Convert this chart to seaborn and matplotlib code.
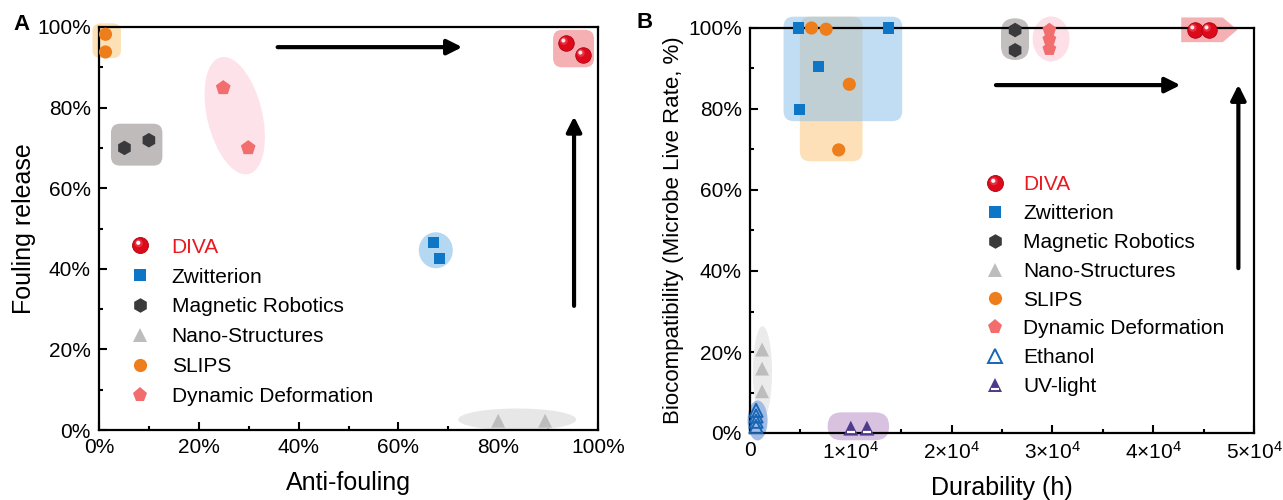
import numpy as np
import matplotlib
matplotlib.use("Agg")
import matplotlib.pyplot as plt
import seaborn as sns
from matplotlib.patches import FancyBboxPatch, Ellipse, Polygon
from matplotlib.path import Path
from matplotlib.markers import MarkerStyle
from matplotlib.lines import Line2D
from matplotlib.legend_handler import HandlerTuple
from matplotlib.ticker import MultipleLocator, FixedLocator

# ---------------- data: panel A (Anti-fouling %, Fouling release %) ----------
categories_a = ["DIVA", "Zwitterion", "Magnetic Robotics", "Nano-Structures",
                "SLIPS", "Dynamic Deformation"]
diva_a_x = [93.5, 96.9]
diva_a_y = [96.0, 93.0]
zwit_a_x = [67.1, 68.2]
zwit_a_y = [46.6, 42.6]
mag_a_x = [5.1, 10.0]
mag_a_y = [70.0, 71.9]
nano_a_x = [80.0, 89.4]
nano_a_y = [2.3, 2.3]
slips_a_x = [1.3, 1.3]
slips_a_y = [98.2, 93.8]
dyn_a_x = [24.9, 29.9]
dyn_a_y = [84.9, 70.0]

# ---------------- data: panel B (Durability h, Biocompatibility %) -----------
categories_b = categories_a + ["Ethanol", "UV-light"]
diva_b_x = [44100, 45500]
diva_b_y = [99.5, 99.5]
zwit_b_x = [4800, 13700, 6800, 4900]
zwit_b_y = [100.0, 100.0, 90.4, 79.8]
mag_b_x = [26300, 26300]
mag_b_y = [99.5, 94.5]
nano_b_x = [1200, 1200, 1200]
nano_b_y = [20.6, 15.9, 10.3]
slips_b_x = [6100, 7550, 9850, 8800]
slips_b_y = [100.0, 99.7, 86.1, 69.9]
dyn_b_x = [29700, 29700, 29700]
dyn_b_y = [99.5, 97.2, 94.8]
eth_b_x = [600, 600, 600, 600]
eth_b_y = [5.6, 4.2, 2.9, 1.6]
uv_b_x = [10000, 11600]
uv_b_y = [1.2, 1.2]

pct_ticks = [0, 20, 40, 60, 80, 100]
pct_labels = ["0%", "20%", "40%", "60%", "80%", "100%"]
dur_ticks = [0, 10000, 20000, 30000, 40000, 50000]
dur_labels = ["0"] + [r"$\mathregular{%d{\times}10^4}$" % k for k in range(1, 6)]

# ---------------- style ----------------
sns.set_style("ticks")
plt.rcParams["font.family"] = ["Liberation Sans", "DejaVu Sans"]
plt.rcParams["mathtext.fontset"] = "custom"
plt.rcParams["mathtext.rm"] = "Liberation Sans"
plt.rcParams["mathtext.it"] = "Liberation Sans:italic"
plt.rcParams["text.color"] = "black"
plt.rcParams["axes.labelcolor"] = "black"
plt.rcParams["xtick.color"] = "black"
plt.rcParams["ytick.color"] = "black"

C_DIVA = "#DD0A1B"
C_ZWIT = "#0E76C6"
C_MAG = "#3A3A3D"
C_NANO = "#BDBDBD"
C_SLIPS = "#EE7D1B"
C_DYN = "#F26E6E"
C_ETH = "#1766B5"
C_UV = "#4E3B8C"

fig = plt.figure(figsize=(12.83, 5.0), dpi=100)
axA = fig.add_axes([99 / 1283, 1 - 430 / 500, 499 / 1283, 403 / 500])
axB = fig.add_axes([750 / 1283, 1 - 433 / 500, 504 / 1283, 405 / 500])

axA.set_xlim(0, 100)
axA.set_ylim(0, 100)
axB.set_xlim(0, 50000)
axB.set_ylim(0, 100)

DPI = fig.dpi


def px(ax, x, y):
    return ax.transData.transform((x, y)) / DPI


def rbox(ax, x0, x1, y0, y1, r_px, color, alpha=1.0, z=1):
    p0 = px(ax, x0, y0)
    p1 = px(ax, x1, y1)
    w, h = p1[0] - p0[0], p1[1] - p0[1]
    r = min(r_px / DPI, w / 2, h / 2)
    p = FancyBboxPatch(tuple(p0), w, h,
                       boxstyle=f"round,pad=0,rounding_size={r}",
                       transform=fig.dpi_scale_trans, facecolor=color,
                       edgecolor="none", alpha=alpha, zorder=z, clip_on=False)
    ax.add_patch(p)


def ell(ax, xc, yc, w_px, h_px, angle, color, alpha=1.0, z=1):
    c = px(ax, xc, yc)
    e = Ellipse(tuple(c), w_px / DPI, h_px / DPI, angle=angle,
                transform=fig.dpi_scale_trans, facecolor=color,
                edgecolor="none", alpha=alpha, zorder=z, clip_on=False)
    ax.add_patch(e)


def offset_circle(cx, cy, r):
    frame = Path([(-1, -1), (1, 1)], [Path.MOVETO, Path.MOVETO])
    return MarkerStyle(Path.make_compound_path(frame, Path.circle((cx, cy), r)))


HL1 = offset_circle(-0.22, 0.28, 0.5)
HL2 = offset_circle(-0.28, 0.34, 0.26)
DASH = MarkerStyle(Path([(-1, -1), (1, 1), (-0.5, -0.55), (0.5, -0.55)],
                        [Path.MOVETO, Path.MOVETO, Path.MOVETO, Path.LINETO]))


def spheres(ax, xs, ys, s=125):
    sns.scatterplot(x=xs, y=ys, marker="o", s=s, color=C_DIVA, edgecolor="#B00010",
                    linewidth=0.6, ax=ax, zorder=4, clip_on=False, legend=False)
    sns.scatterplot(x=xs, y=ys, marker=HL1, s=s, color="#F2505C", alpha=0.55,
                    edgecolor="none", linewidth=0, ax=ax, zorder=4, clip_on=False, legend=False)
    sns.scatterplot(x=xs, y=ys, marker=HL2, s=s, color="white", alpha=0.9,
                    edgecolor="none", linewidth=0, ax=ax, zorder=4, clip_on=False, legend=False)


def pts(ax, xs, ys, marker, s, color, z=4, **kw):
    kw.setdefault("edgecolor", "none")
    kw.setdefault("linewidth", 0)
    sns.scatterplot(x=xs, y=ys, marker=marker, s=s, color=color, ax=ax,
                    zorder=z, clip_on=False, legend=False, **kw)


# ---------------- Panel A ----------------
rbox(axA, -1.3, 4.4, 92.3, 100.9, 8, "#FCE0B6")
ell(axA, 27.2, 78.0, 55, 120, 13.5, "#FDE2E9")
rbox(axA, 2.4, 12.7, 65.6, 76.0, 9, "#BEBBBA")
rbox(axA, 91.0, 99.2, 90.0, 99.3, 9, "#F4B0B3")
ell(axA, 67.5, 44.6, 34, 36, 0, "#B4D7F2")
ell(axA, 83.8, 2.6, 118, 22, 0, "#E7E7E7")

spheres(axA, diva_a_x, diva_a_y)
pts(axA, zwit_a_x, zwit_a_y, "s", 64, C_ZWIT)
pts(axA, mag_a_x, mag_a_y, "h", 110, C_MAG)
pts(axA, nano_a_x, nano_a_y, "^", 100, C_NANO)
pts(axA, slips_a_x, slips_a_y, "o", 90, C_SLIPS)
pts(axA, dyn_a_x, dyn_a_y, "p", 125, C_DYN)

ARW = dict(arrowstyle="-|>,head_length=0.9,head_width=0.45",
           lw=3, color="black", shrinkA=0, shrinkB=0)
axA.annotate("", xy=(72.8, 95.0), xytext=(35.8, 95.0), arrowprops=ARW, zorder=5)
axA.annotate("", xy=(95.2, 77.8), xytext=(95.2, 30.8), arrowprops=ARW, zorder=5)

# ---------------- Panel B ----------------
rbox(axB, 4950, 11160, 67.1, 102.8, 10, "#FDDFB8")
rbox(axB, 3330, 15100, 77.0, 102.8, 10, "#8EC2EC", alpha=0.55)
rbox(axB, 24900, 27680, 92.1, 102.4, 20, "#C2BFBE")
ell(axB, 29870, 97.3, 37, 45, 0, "#FDE0E7")
arrow_poly = [(42780, 96.5), (46900, 96.5), (48350, 99.55), (46900, 102.6), (42780, 102.6)]
poly_px = [tuple(px(axB, x, y)) for x, y in arrow_poly]
axB.add_patch(Polygon(poly_px, closed=True, transform=fig.dpi_scale_trans,
                      facecolor="#F5B0B3", edgecolor="none", zorder=1, clip_on=False))
ell(axB, 1240, 15.0, 19, 92, 0, "#EBEBEB")
ell(axB, 750, 3.1, 20, 40, 0, "#A3BCE4")
rbox(axB, 7700, 13800, -1.8, 5.1, 14, "#D8C2E0")

spheres(axB, diva_b_x, diva_b_y)
pts(axB, zwit_b_x, zwit_b_y, "s", 64, C_ZWIT)
pts(axB, mag_b_x, mag_b_y, "h", 110, C_MAG)
pts(axB, nano_b_x, nano_b_y, "^", 100, C_NANO)
pts(axB, slips_b_x, slips_b_y, "o", 90, C_SLIPS)
pts(axB, dyn_b_x, dyn_b_y, "p", 110, C_DYN)
pts(axB, eth_b_x, eth_b_y, "^", 90, C_ETH, facecolor="none", edgecolor=C_ETH, linewidth=1.4)
pts(axB, uv_b_x, uv_b_y, "^", 115, C_UV)
pts(axB, uv_b_x, uv_b_y, DASH, 115, "white", z=4.5, facecolor="none",
    edgecolor="white", linewidth=1.6)

axB.annotate("", xy=(42700, 85.9), xytext=(24400, 85.9), arrowprops=ARW, zorder=5)
axB.annotate("", xy=(48450, 86.0), xytext=(48450, 40.7), arrowprops=ARW, zorder=5)

# ---------------- axes styling ----------------
for ax in (axA, axB):
    for sp in ax.spines.values():
        sp.set_visible(True)
        sp.set_linewidth(1.6)
        sp.set_color("black")
        sp.set_zorder(2.5)
    ax.tick_params(which="both", direction="in", top=False, right=False,
                   labelsize=15, pad=6, colors="black")
    ax.tick_params(which="major", length=6, width=1.5)
    ax.tick_params(which="minor", length=3, width=1.5)
    ax.yaxis.set_major_locator(FixedLocator(pct_ticks))
    ax.set_yticklabels(pct_labels)
    ax.yaxis.set_minor_locator(MultipleLocator(10))

axA.xaxis.set_major_locator(FixedLocator(pct_ticks))
axA.set_xticklabels(pct_labels)
axA.xaxis.set_minor_locator(MultipleLocator(10))
axB.xaxis.set_major_locator(FixedLocator(dur_ticks))
axB.set_xticklabels(dur_labels)
axB.xaxis.set_minor_locator(MultipleLocator(5000))

axA.set_xlabel("Anti-fouling", fontsize=18, labelpad=10)
axA.set_ylabel("Fouling release", fontsize=18, labelpad=1)
axB.set_xlabel("Durability (h)", fontsize=18, labelpad=9)
axB.set_ylabel("Biocompatibility (Microbe Live Rate, %)", fontsize=16, labelpad=3)

fig.text(13 / 1283, 1 - 25 / 500, "A", fontsize=16, fontweight="bold", va="center")
fig.text(636 / 1283, 1 - 22 / 500, "B", fontsize=16, fontweight="bold", va="center")

# ---------------- legends ----------------
def L(marker, ms, color, **kw):
    return Line2D([], [], linestyle="none", marker=marker, markersize=ms,
                  markerfacecolor=kw.pop("mfc", color), markeredgecolor=kw.pop("mec", color),
                  markeredgewidth=kw.pop("mew", 0), **kw)


h_diva = (L("o", 11.5, C_DIVA, mec="#B00010", mew=0.6),
          L(HL1, 11.5, "#F2505C", alpha=0.55),
          L(HL2, 11.5, "white"))
h_zwit = L("s", 8, C_ZWIT)
h_mag = L("h", 10.5, C_MAG)
h_nano = L("^", 10, C_NANO)
h_slips = L("o", 9.5, C_SLIPS)
h_dyn = L("p", 11, C_DYN)
h_eth = L("^", 9.5, C_ETH, mfc="none", mew=1.4)
h_uv = (L("^", 10.5, C_UV), L(DASH, 10.5, "white", mfc="none", mec="white", mew=1.5))

handles_a = [h_diva, h_zwit, h_mag, h_nano, h_slips, h_dyn]
handles_b = handles_a + [h_eth, h_uv]

legA = axA.legend(handles_a, categories_a, loc="upper left", bbox_to_anchor=(0.062, 0.477),
                  frameon=False, fontsize=15, handlelength=1.0, handletextpad=1.0,
                  labelspacing=0.52, borderpad=0, borderaxespad=0,
                  handler_map={tuple: HandlerTuple(ndivide=1, pad=0)})
legB = axB.legend(handles_b, categories_b, loc="upper left", bbox_to_anchor=(0.4655, 0.636),
                  frameon=False, fontsize=15, handlelength=1.0, handletextpad=0.85,
                  labelspacing=0.47, borderpad=0, borderaxespad=0,
                  handler_map={tuple: HandlerTuple(ndivide=1, pad=0)})
for leg in (legA, legB):
    leg.get_texts()[0].set_color("#E8191F")
    leg.set_zorder(6)

fig.savefig("out.png", dpi=100)
